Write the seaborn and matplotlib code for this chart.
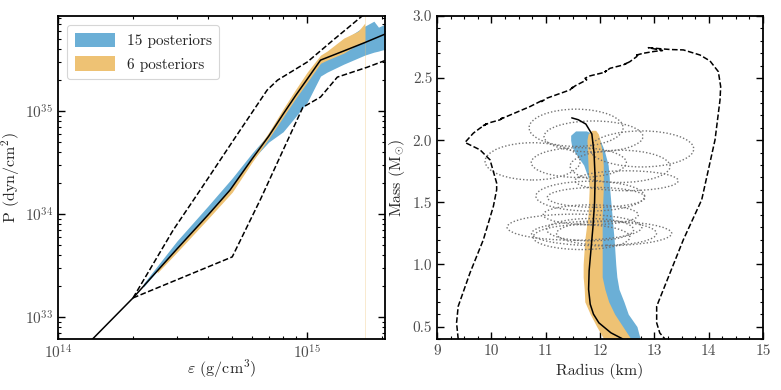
import matplotlib
matplotlib.use('Agg')
import matplotlib.pyplot as plt
import seaborn as sns
import pandas as pd
from matplotlib.patches import Ellipse, Patch
from matplotlib.ticker import MultipleLocator, LogLocator, NullFormatter, FormatStrFormatter

# ---------------- data: left panel (EOS) ----------------
eps_med = [1.3e14, 2.0e14, 3e14, 4e14, 4.9e14, 6e14, 7e14, 8e14, 9e14, 1.0e15, 1.13e15, 1.4e15, 1.7e15, 2.05e15]
P_med = [5.3e32, 1.53e33, 4.57e33, 9.8e33, 1.71e34, 3.42e34, 5.7e34, 9.35e34, 1.43e35, 2.05e35, 3.13e35, 3.84e35, 4.63e35, 5.6e35]

eps_up = [2.0e14, 2.9e14, 3.72e14, 5.05e14, 6.9e14, 7.6e14, 1.0e15, 1.27e15, 1.66e15, 2.05e15]
P_up = [1.53e33, 7.0e33, 1.71e34, 5.2e34, 1.6e35, 2.0e35, 3.0e35, 4.9e35, 8.4e35, 1.1e36]

eps_low = [2.0e14, 5.0e14, 6.5e14, 8.0e14, 9.6e14, 1.13e15, 1.32e15, 1.74e15, 2.05e15]
P_low = [1.53e33, 3.83e33, 1.40e34, 4.18e34, 1.09e35, 1.37e35, 2.14e35, 2.67e35, 3.1e35]

eps_b15 = [2.2e14, 3e14, 4e14, 5e14, 6e14, 7e14, 8e14, 9e14, 1.0e15, 1.13e15, 1.2e15, 1.4e15, 1.7e15, 1.85e15, 1.93e15, 2.05e15]
P_b15_lo = [1.95e33, 4.68e33, 1.0e34, 1.83e34, 3.34e34, 5.0e34, 6.3e34, 8.9e34, 1.22e35, 2.19e35, 2.39e35, 2.86e35, 3.50e35, 3.74e35, 3.83e35, 4.0e35]
P_b15_hi = [2.10e33, 5.47e33, 1.20e34, 2.24e34, 3.9e34, 5.98e34, 9.78e34, 1.50e35, 2.14e35, 3.27e35, 3.50e35, 4.89e35, 6.69e35, 7.48e35, 6.54e35, 7.0e35]

eps_b6 = [2.5e14, 3e14, 4e14, 5e14, 6e14, 7e14, 8e14, 9e14, 1.0e15, 1.13e15, 1.2e15, 1.4e15, 1.6e15, 1.7e15]
P_b6_lo = [2.67e33, 4.25e33, 9.0e33, 1.63e34, 3.18e34, 5.4e34, 8.75e34, 1.34e35, 1.91e35, 2.92e35, 3.13e35, 3.66e35, 4.47e35, 4.78e35]
P_b6_hi = [2.86e33, 4.68e33, 1.02e34, 1.86e34, 3.6e34, 6.2e34, 1.05e35, 1.64e35, 2.40e35, 3.50e35, 3.83e35, 5.12e35, 5.98e35, 7.15e35]

# ---------------- data: right panel (M-R) ----------------
mr_R = [12.42, 12.20, 11.98, 11.88, 11.82, 11.79, 11.80, 11.83, 11.87, 11.90, 11.91, 11.89, 11.85, 11.74, 11.60, 11.48]
mr_M = [0.40, 0.45, 0.53, 0.60, 0.68, 0.80, 0.95, 1.10, 1.30, 1.50, 1.70, 1.90, 2.05, 2.13, 2.165, 2.18]

b15_M = [0.40, 0.5, 0.6, 0.7, 0.8, 0.9, 1.0, 1.2, 1.4, 1.6, 1.7, 1.8, 1.9, 1.95, 2.0, 2.04, 2.075]
b15_Rlo = [12.20, 12.10, 11.95, 11.85, 11.80, 11.80, 11.80, 11.80, 11.82, 11.82, 11.78, 11.70, 11.54, 11.48, 11.46, 11.46, 11.55]
b15_Rhi = [12.74, 12.68, 12.52, 12.44, 12.35, 12.31, 12.29, 12.26, 12.22, 12.18, 12.17, 12.15, 12.09, 12.05, 12.00, 11.92, 11.75]

b6_M = [0.40, 0.5, 0.6, 0.7, 0.8, 0.9, 1.0, 1.2, 1.4, 1.6, 1.8, 1.9, 2.0, 2.05, 2.08]
b6_Rlo = [12.07, 11.94, 11.82, 11.72, 11.71, 11.69, 11.69, 11.72, 11.78, 11.80, 11.78, 11.77, 11.76, 11.78, 11.85]
b6_Rhi = [12.57, 12.42, 12.27, 12.16, 12.09, 12.04, 12.04, 12.04, 12.04, 12.06, 12.06, 12.04, 12.00, 11.97, 11.92]

env_R = [9.39, 9.36, 9.39, 9.607, 9.853, 10.037, 10.098, 10.098, 9.976, 9.791, 9.515,
         9.669, 9.791, 9.914, 9.841, 9.976, 10.160, 10.221, 10.172, 10.282, 10.712, 10.957, 10.926,
         11.019, 11.448, 11.497, 11.466, 11.540, 11.755, 11.724, 11.816, 12.061, 12.123, 12.092,
         12.184, 12.429, 12.491, 12.460, 12.552, 12.675, 12.705, 12.675, 12.797, 13.0, 13.15,
         12.89, 13.10, 13.3, 13.534, 13.841, 14.025, 14.178, 14.221, 14.209, 14.117, 13.872,
         13.534, 13.289, 13.043, 13.043, 13.10, 13.196]
env_M = [0.40, 0.53, 0.663, 0.932, 1.199, 1.467, 1.601, 1.655, 1.842, 1.923, 1.982,
         2.057, 2.097, 2.132, 2.116, 2.142, 2.164, 2.186, 2.170, 2.191, 2.271, 2.325, 2.311,
         2.338, 2.405, 2.427, 2.411, 2.437, 2.486, 2.499, 2.518, 2.544, 2.560, 2.550,
         2.579, 2.606, 2.620, 2.612, 2.633, 2.673, 2.695, 2.686, 2.700, 2.715, 2.722,
         2.745, 2.737, 2.730, 2.727, 2.686, 2.638, 2.552, 2.432, 2.325, 2.003, 1.521,
         1.199, 0.932, 0.663, 0.530, 0.449, 0.40]

ell_R = [11.56, 11.88, 12.77, 10.76, 11.61, 12.37, 12.49, 11.82, 11.93, 11.53, 11.83, 12.03, 11.66, 12.12, 11.82]
ell_M = [2.10, 2.03, 1.93, 1.83, 1.82, 1.79, 1.674, 1.55, 1.54, 1.30, 1.40, 1.25, 1.22, 1.25, 1.28]
ell_w = [1.73, 1.82, 1.91, 1.75, 1.75, 1.84, 1.90, 2.00, 1.80, 2.48, 1.75, 2.58, 1.78, 1.84, 1.60]
ell_h = [0.30, 0.25, 0.29, 0.30, 0.24, 0.26, 0.16, 0.24, 0.16, 0.21, 0.16, 0.20, 0.20, 0.19, 0.18]

labels = ['15 posteriors', '6 posteriors']
blue = '#6BAFD6'
orange = '#EEC274'

# ---------------- style ----------------
sns.set_theme(style='ticks')
plt.rcParams.update({
    'font.family': ['cmr10', 'DejaVu Serif'],
    'mathtext.fontset': 'cm',
    'axes.formatter.use_mathtext': True,
    'axes.unicode_minus': False,
    'axes.edgecolor': 'black',
    'axes.linewidth': 1.3,
    'xtick.direction': 'in', 'ytick.direction': 'in',
    'xtick.top': True, 'ytick.right': True,
    'xtick.major.size': 5, 'ytick.major.size': 5,
    'xtick.minor.size': 2.5, 'ytick.minor.size': 2.5,
    'xtick.major.width': 1.0, 'ytick.major.width': 1.0,
    'xtick.minor.width': 0.8, 'ytick.minor.width': 0.8,
    'xtick.color': 'black', 'ytick.color': 'black',
    'xtick.labelcolor': '0.3', 'ytick.labelcolor': '0.3',
    'xtick.labelsize': 11, 'ytick.labelsize': 11,
    'axes.labelsize': 11.5,
})

fig = plt.figure(figsize=(7.81, 3.90), dpi=100)
ax1 = fig.add_axes([58/781, 51/390, 327/781, 323/390])
ax2 = fig.add_axes([437/781, 51/390, 326/781, 323/390])

# ---------------- left panel ----------------
ax1.set_xscale('log')
ax1.set_yscale('log')
ax1.fill_between(eps_b15, P_b15_lo, P_b15_hi, color=blue, lw=0, zorder=1)
ax1.fill_between(eps_b6, P_b6_lo, P_b6_hi, color=orange, lw=0, zorder=2)
ax1.axvline(eps_b6[-1], color=orange, lw=0.6, alpha=0.4, zorder=1)
df_med = pd.DataFrame({'eps': eps_med, 'P': P_med})
sns.lineplot(data=df_med, x='eps', y='P', ax=ax1, color='black', lw=1.1, sort=False, estimator=None, zorder=4)
sns.lineplot(x=eps_up, y=P_up, ax=ax1, color='black', lw=1.1, ls='--', sort=False, estimator=None, zorder=3)
sns.lineplot(x=eps_low, y=P_low, ax=ax1, color='black', lw=1.1, ls='--', sort=False, estimator=None, zorder=3)
ax1.set_xlim(1e14, 2.05e15)
ax1.set_ylim(6.1e32, 8.4e35)
ax1.xaxis.set_major_locator(LogLocator(base=10, numticks=10))
ax1.yaxis.set_major_locator(LogLocator(base=10, numticks=10))
ax1.xaxis.set_minor_locator(LogLocator(base=10, subs=range(2, 10), numticks=20))
ax1.yaxis.set_minor_locator(LogLocator(base=10, subs=range(2, 10), numticks=20))
ax1.xaxis.set_minor_formatter(NullFormatter())
ax1.yaxis.set_minor_formatter(NullFormatter())
ax1.set_xlabel(r'$\varepsilon$ (g/cm$^3$)', labelpad=-3)
ax1.set_ylabel(r'P (dyn/cm$^2$)', labelpad=2)
handles = [Patch(facecolor=blue, edgecolor='none', label=labels[0]),
           Patch(facecolor=orange, edgecolor='none', label=labels[1])]
leg = ax1.legend(handles=handles, loc='upper left', fontsize=11, frameon=True, fancybox=True,
                 handlelength=2.6, handleheight=1.1, borderpad=0.5, labelspacing=0.5,
                 bbox_to_anchor=(0.0, 1.0), borderaxespad=0.6)
leg.get_frame().set_edgecolor('0.8')
leg.get_frame().set_linewidth(0.8)

# ---------------- right panel ----------------
ax2.fill_betweenx(b15_M, b15_Rlo, b15_Rhi, color=blue, lw=0, zorder=1)
ax2.fill_betweenx(b6_M, b6_Rlo, b6_Rhi, color=orange, lw=0, zorder=2)
for r, m, w, h in zip(ell_R, ell_M, ell_w, ell_h):
    ax2.add_patch(Ellipse((r, m), w, h, fill=False, ls=(0, (1, 1.5)), lw=1.0, ec='0.45', zorder=3))
sns.lineplot(x=env_R, y=env_M, ax=ax2, color='black', lw=1.1, ls='--', sort=False, estimator=None, zorder=4)
sns.lineplot(x=mr_R, y=mr_M, ax=ax2, color='black', lw=1.1, sort=False, estimator=None, zorder=5)
ax2.set_xlim(9, 15)
ax2.set_ylim(0.4, 3.0)
ax2.xaxis.set_major_locator(MultipleLocator(1))
ax2.xaxis.set_minor_locator(MultipleLocator(0.25))
ax2.yaxis.set_major_locator(MultipleLocator(0.5))
ax2.yaxis.set_minor_locator(MultipleLocator(0.1))
ax2.xaxis.set_major_formatter(FormatStrFormatter('%d'))
ax2.yaxis.set_major_formatter(FormatStrFormatter('%.1f'))
ax2.set_xlabel('Radius (km)')
ax2.set_ylabel(r'Mass (M$_{\odot}$)')

for ax in (ax1, ax2):
    ax.tick_params(which='both', top=True, right=True, direction='in')

fig.savefig('out.png', dpi=100)
